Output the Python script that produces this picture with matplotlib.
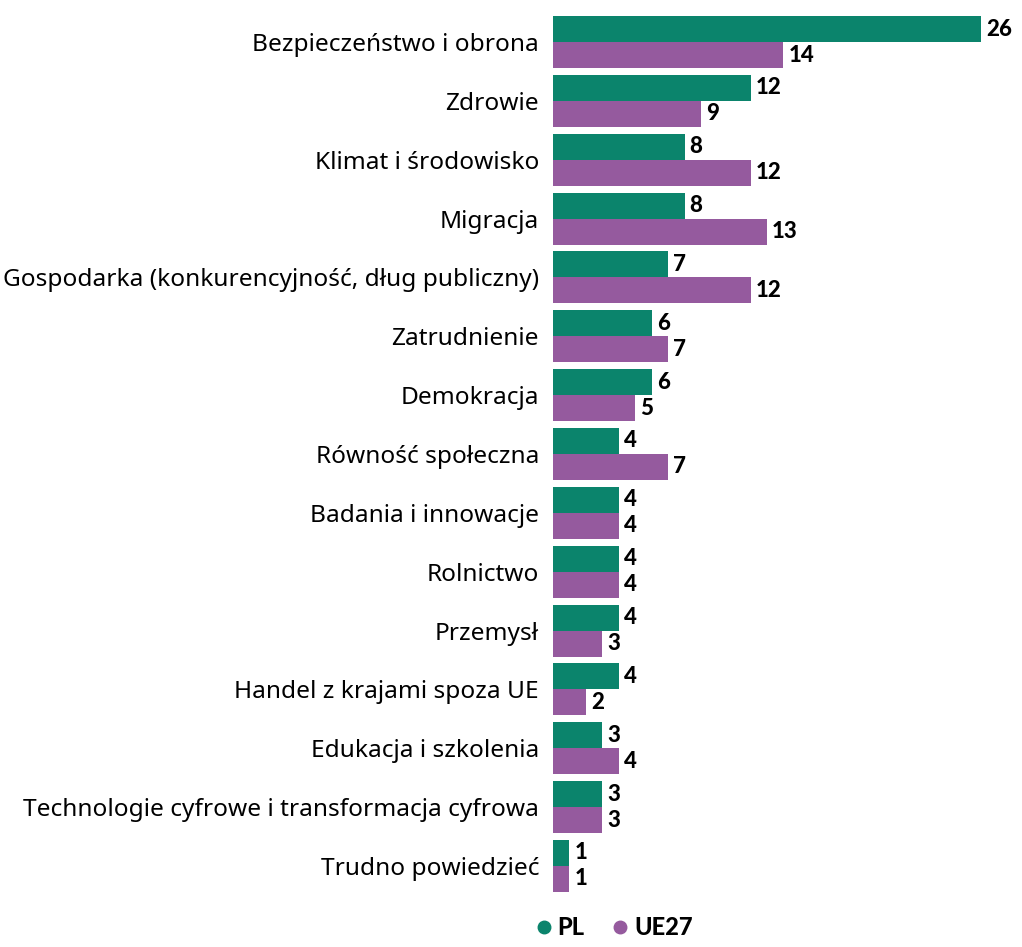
import numpy as np
import matplotlib
matplotlib.use("Agg")
import matplotlib.pyplot as plt
from matplotlib.lines import Line2D

categories = [
    "Bezpieczeństwo i obrona",
    "Zdrowie",
    "Klimat i środowisko",
    "Migracja",
    "Gospodarka (konkurencyjność, dług publiczny)",
    "Zatrudnienie",
    "Demokracja",
    "Równość społeczna",
    "Badania i innowacje",
    "Rolnictwo",
    "Przemysł",
    "Handel z krajami spoza UE",
    "Edukacja i szkolenia",
    "Technologie cyfrowe i transformacja cyfrowa",
    "Trudno powiedzieć",
]
pl = [26, 12, 8, 8, 7, 6, 6, 4, 4, 4, 4, 4, 3, 3, 1]
ue27 = [14, 9, 12, 13, 12, 7, 5, 7, 4, 4, 3, 2, 4, 3, 1]

green = "#0b846c"
purple = "#955a9e"

plt.rcParams["font.family"] = ["Noto Sans", "DejaVu Sans"]

fig = plt.figure(figsize=(10.22, 9.47), dpi=100)
ax = fig.add_axes([0.541, 0.0545, 0.419, 0.9322])

y = np.arange(len(categories))
h = 0.442
ax.barh(y - h / 2, pl, height=h, color=green)
ax.barh(y + h / 2, ue27, height=h, color=purple)

for yi, v in zip(y, pl):
    ax.text(v + 0.3, yi - h / 2, str(v), va="center", ha="left",
            fontsize=16, fontweight="black", family="Lato")
for yi, v in zip(y, ue27):
    ax.text(v + 0.3, yi + h / 2, str(v), va="center", ha="left",
            fontsize=16, fontweight="black", family="Lato")

ax.set_yticks(y)
ax.set_yticklabels(categories, fontsize=17.6)
ax.tick_params(axis="y", length=0, pad=10)
ax.set_xticks([])
ax.set_xlim(0, 26)
ax.set_ylim(14.5, -0.5)
for s in ax.spines.values():
    s.set_visible(False)

handles = [
    Line2D([], [], marker="o", color=green, linestyle="", markersize=9),
    Line2D([], [], marker="o", color=purple, linestyle="", markersize=9),
]
fig.legend(handles, ["PL", "UE27"], loc="lower center",
           bbox_to_anchor=(0.598, -0.014), ncol=2, frameon=False,
           handletextpad=0.0, columnspacing=0.9, handlelength=1.2,
           prop={"family": "Lato", "weight": "black", "size": 17})

fig.savefig("out.png", dpi=100)
